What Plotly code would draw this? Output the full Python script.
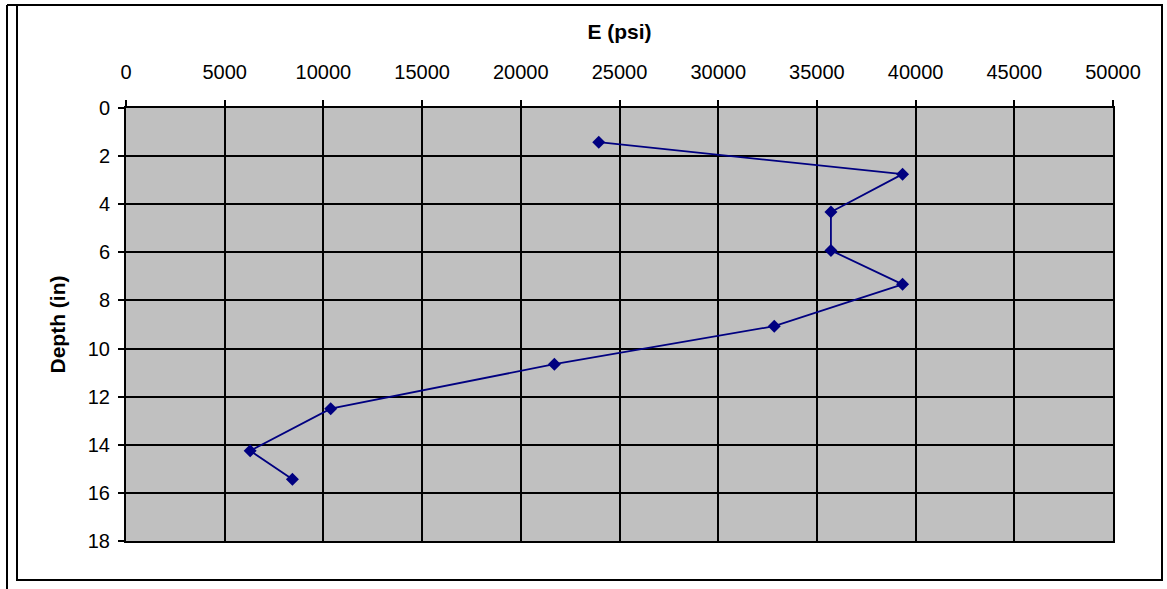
import plotly.graph_objects as go

# Modulus profile with depth
modulus_psi = [23950, 39340, 35710, 35710, 39340, 32840, 21700, 10370, 6290, 8430]
depth_in = [1.42, 2.75, 4.32, 5.92, 7.33, 9.07, 10.65, 12.5, 14.25, 15.43]

x_ticks = list(range(0, 50001, 5000))
y_ticks = list(range(0, 19, 2))

W, H = 1167, 589
L, R, T, B = 126, 1113, 108, 541

FONT = "Liberation Sans, Arial, sans-serif"


def px_x(p):
    return (p - L) / (R - L)


def px_y(p):
    return (B - p) / (B - T)


fig = go.Figure()
fig.add_trace(go.Scatter(
    x=modulus_psi, y=depth_in, mode="lines+markers",
    line=dict(color="#000080", width=1.8),
    marker=dict(symbol="diamond", size=10, color="#000080"),
    showlegend=False,
))

frame = dict(color="black", width=2)
fig.add_shape(type="rect", xref="paper", yref="paper",
              x0=px_x(17), x1=px_x(1162), y0=px_y(580), y1=px_y(5), line=frame, layer="below")
fig.add_shape(type="line", xref="paper", yref="paper",
              x0=px_x(7), x1=px_x(7), y0=px_y(592), y1=px_y(5), line=frame)
fig.add_shape(type="line", xref="paper", yref="paper",
              x0=px_x(7), x1=px_x(17), y0=px_y(5), y1=px_y(5), line=frame)

fig.update_layout(
    width=W, height=H,
    margin=dict(l=L, r=W - R, t=T, b=H - B),
    paper_bgcolor="white", plot_bgcolor="#C0C0C0",
    font=dict(family=FONT, color="black"),
    xaxis=dict(
        side="top", range=[0, 50000], tickvals=x_ticks, ticktext=[str(v) for v in x_ticks],
        showgrid=True, gridcolor="black", gridwidth=2,
        showline=True, linecolor="black", linewidth=2, mirror=True,
        ticks="outside", ticklen=6, tickwidth=2, tickcolor="black",
        ticklabelstandoff=13,
        tickfont=dict(size=20, family=FONT),
        title=dict(text="<b>E (psi)</b>", font=dict(size=21, family=FONT), standoff=16),
        zeroline=False, fixedrange=True,
    ),
    yaxis=dict(
        range=[18, 0], tickvals=y_ticks, ticktext=[str(v) for v in y_ticks],
        showgrid=True, gridcolor="black", gridwidth=2,
        showline=True, linecolor="black", linewidth=2, mirror=True,
        ticks="outside", ticklen=6, tickwidth=2, tickcolor="black",
        ticklabelstandoff=4,
        tickfont=dict(size=20, family=FONT),
        title=dict(text="<b>Depth (in)</b>", font=dict(size=21, family=FONT), standoff=16),
        zeroline=False, fixedrange=True,
    ),
)

fig.write_html("out.html")
